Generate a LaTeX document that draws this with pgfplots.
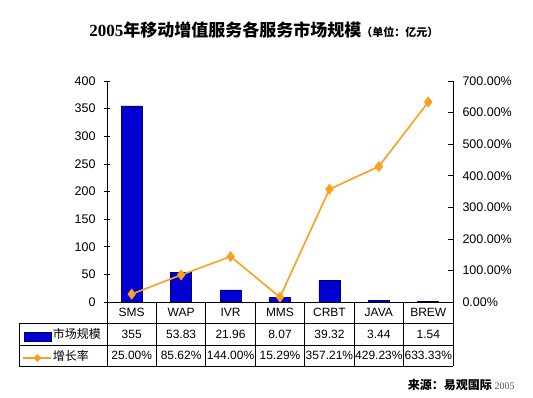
\documentclass[border=0pt]{standalone}
\usepackage{pgfplots}
\usepackage{pgfplotstable}
\pgfplotsset{compat=1.18}
\usepackage{fontspec}
\setmainfont{Liberation Sans}
\newfontfamily\cjk{Noto Sans CJK SC}
\newfontfamily\tmsfont{Liberation Serif}
\definecolor{barblue}{RGB}{0,0,210}
\definecolor{baredge}{RGB}{0,0,110}
\definecolor{lineor}{RGB}{250,160,30}

\pgfplotstableread{
x size growth
0 355 25.00
1 53.83 85.62
2 21.96 144.00
3 8.07 15.29
4 39.32 357.21
5 3.44 429.23
6 1.54 633.33
}\data

\begin{document}
\begin{tikzpicture}
\path[use as bounding box] (-107bp,-96bp) rectangle (426bp,302bp);
\begin{axis}[
  at={(0,0)}, anchor=south west,
  scale only axis, width=346bp, height=221bp,
  xmin=-0.5, xmax=6.5, ymin=0, ymax=400,
  axis y line*=left, axis x line=none,
  ytick={0,50,...,400},
  tick align=center, major tick length=6bp,
  tick style={black, line width=0.6bp},
  axis line style={black, line width=0.8bp},
  /pgf/number format/assume math mode=true,
  yticklabel style={font=\fontsize{12.5bp}{14bp}\selectfont, xshift=-5bp},
  clip=false,
]
\addplot[ybar, bar width=21bp, fill=barblue, draw=baredge, line width=0.6bp] table[x=x,y=size]{\data};
\end{axis}
\begin{axis}[
  at={(0,0)}, anchor=south west,
  scale only axis, width=346bp, height=221bp,
  xmin=-0.5, xmax=6.5, ymin=0, ymax=700,
  axis y line*=right, axis x line=none,
  ytick={0,100,...,700},
  tick align=inside, major tick length=5bp,
  tick style={black, line width=0.6bp},
  axis line style={black, line width=0.8bp},
  /pgf/number format/assume math mode=true,
  yticklabel={\pgfmathprintnumber[fixed,fixed zerofill,precision=2]{\tick}\%},
  yticklabel style={font=\fontsize{12.5bp}{14bp}\selectfont, xshift=6bp},
]
\addplot[lineor, line width=1.6bp, mark=diamond*, mark size=4.3bp, mark options={fill=lineor, draw=lineor}] table[x=x,y=growth]{\data};
\end{axis}
\begin{scope}[x=1bp, y=1bp, line width=0.8bp]
  % title
  \node[anchor=base west, inner sep=0] at (-18,266) {\fontsize{17bp}{20bp}\selectfont\bfseries\tmsfont 2005\cjk 年移动增值服务各服务市场规模\fontsize{11bp}{13bp}\selectfont （单位：亿元）};
  % table lines
  \draw (0,0) -- (346,0);
  \draw (-88,-21.5) -- (346,-21.5);
  \draw (-88,-43) -- (346,-43);
  \draw (-88,-64) -- (346,-64);
  \draw (-88,-21.5) -- (-88,-64);
  \foreach \i in {0,...,7} { \draw ({\i*346/7},0) -- ({\i*346/7},-64); }
  % category names
  \foreach \n [count=\c from 0] in {SMS,WAP,IVR,MMS,CRBT,JAVA,BREW} {
    \node[font=\fontsize{12bp}{14bp}\selectfont, inner sep=0] at ({(\c+0.5)*346/7},-10.75) {\n};
  }
  \foreach \n [count=\c from 0] in {355,53.83,21.96,8.07,39.32,3.44,1.54} {
    \node[font=\fontsize{12bp}{14bp}\selectfont, inner sep=0] at ({(\c+0.5)*346/7},-32.25) {\n};
  }
  \foreach \n [count=\c from 0] in {25.00\%,85.62\%,144.00\%,15.29\%,357.21\%,429.23\%,633.33\%} {
    \node[font=\fontsize{12bp}{14bp}\selectfont, inner sep=0] at ({(\c+0.5)*346/7},-53.5) {\n};
  }
  % legend keys
  \fill[barblue, draw=baredge, line width=0.6bp] (-83,-30.7) rectangle (-55.5,-39.5);
  \node[anchor=west, inner sep=0, font=\fontsize{12bp}{14bp}\selectfont\cjk] at (-54.5,-32.25) {市场规模};
  \draw[lineor, line width=1.6bp] (-84,-56) -- (-55.5,-56);
  \fill[lineor] (-69.5,-52) -- (-65.5,-56) -- (-69.5,-60) -- (-73.5,-56) -- cycle;
  \node[anchor=west, inner sep=0, font=\fontsize{12bp}{14bp}\selectfont\cjk] at (-54.5,-53.5) {增长率};
  % source
  \node[anchor=base east, inner sep=0] at (408,-87) {\fontsize{12bp}{14bp}\selectfont\cjk\bfseries 来源：易观国际\ \tmsfont\mdseries\color{black!65}\fontsize{10bp}{12bp}\selectfont 2005};
\end{scope}
\end{tikzpicture}
\end{document}
